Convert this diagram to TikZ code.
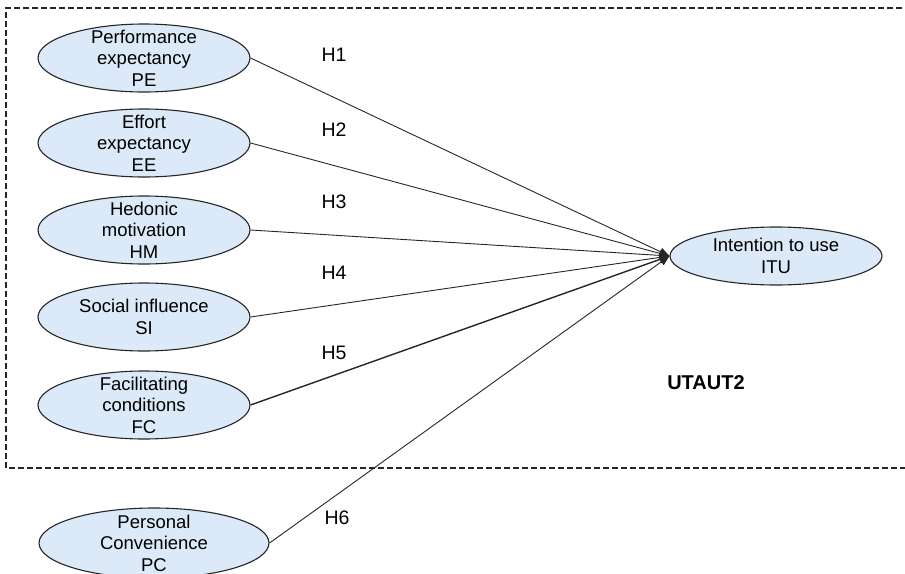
\documentclass[tikz,border=0pt]{standalone}
\usepackage{fontspec}
\setmainfont{Liberation Sans}
\usetikzlibrary{shapes.geometric,arrows.meta}
\definecolor{factorfill}{HTML}{DCE9F8}
\definecolor{edgegray}{HTML}{262626}
\tikzset{
  factor/.style={ellipse, draw=edgegray, line width=1.1pt, fill=factorfill,
    minimum width=212pt, minimum height=68pt, inner sep=0pt},
  factortext/.style={align=center, font=\fontsize{18.5}{21.5}\selectfont},
  hyp/.style={font=\fontsize{19.5}{22}\selectfont},
  path/.style={draw=edgegray, line width=0.9pt, -{Triangle[length=10pt,width=8pt]}}
}

\begin{document}
\begin{tikzpicture}[x=1pt, y=-1pt]
  \useasboundingbox (0,0) rectangle (905,573);
  \draw[edgegray, line width=1.2pt, dash pattern=on 6pt off 3pt] (920,8) -- (6,8) -- (6,468) -- (920,468);

  \node[factor, label={[factortext]center:Performance\\expectancy\\PE}] (pe) at (144,58) {};
  \node[factor, label={[factortext]center:Effort\\expectancy\\EE}] (ee) at (144,143) {};
  \node[factor, label={[factortext]center:Hedonic\\motivation\\HM}] (hm) at (144,230) {};
  \node[factor, label={[factortext]center:Social influence\\SI}] (si) at (144,317) {};
  \node[factor, label={[factortext]center:Facilitating\\conditions\\FC}] (fc) at (144,405) {};
  \node[factor, minimum width=230pt, minimum height=70pt,
    label={[factortext]center:Personal\\Convenience\\PC}] (pc) at (154,543) {};
  \node[factor, minimum height=58pt, label={[factortext]center:Intention to use\\ITU}] (itu) at (776,256) {};

  \draw[path] (pe.east) -- (itu.west);
  \draw[path] (ee.east) -- (itu.west);
  \draw[path] (hm.east) -- (itu.west);
  \draw[path] (si.east) -- (itu.west);
  \draw[path, line width=1.4pt] (fc.east) -- (itu.west);
  \draw[path] (pc.east) -- (itu.west);

  \node[hyp] (h1) at (334,55) {H1};
  \node[hyp] (h2) at (334,130) {H2};
  \node[hyp] (h3) at (334,202) {H3};
  \node[hyp] (h4) at (334,273) {H4};
  \node[hyp] (h5) at (334,353) {H5};
  \node[hyp] (h6) at (337,518) {H6};
  \node[font=\fontsize{20}{24}\selectfont\bfseries] (utaut) at (706,383) {UTAUT2};
\end{tikzpicture}
\end{document}
